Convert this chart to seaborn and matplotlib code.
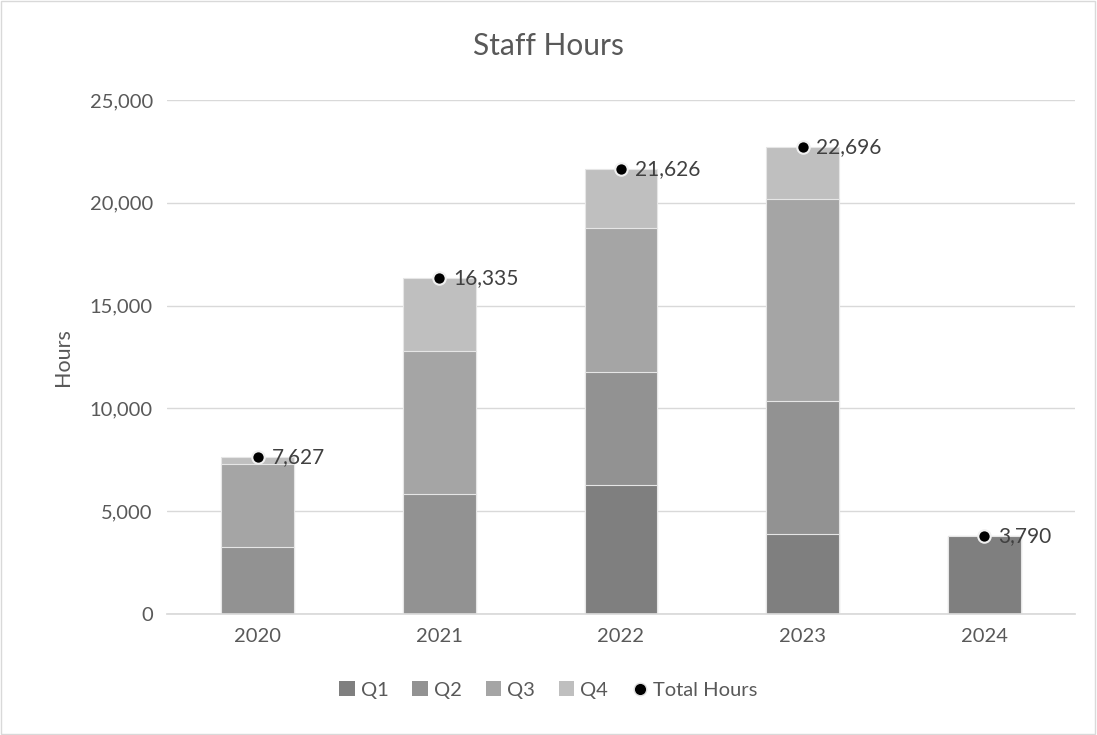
import matplotlib
matplotlib.use("Agg")
import matplotlib.pyplot as plt
from matplotlib.lines import Line2D
from matplotlib.patches import Patch
import seaborn as sns
import pandas as pd
import numpy as np

years = ["2020", "2021", "2022", "2023", "2024"]
q1 = [0, 0, 6260, 3870, 3790]
q2 = [3240, 5820, 5500, 6480, 0]
q3 = [4040, 6960, 7010, 9830, 0]
q4 = [347, 3555, 2856, 2516, 0]
totals = [7627, 16335, 21626, 22696, 3790]
series_names = ["Q1", "Q2", "Q3", "Q4"]
colors = ["#7f7f7f", "#929292", "#a5a5a5", "#bfbfbf"]

sns.set_theme(style="white")
plt.rcParams['font.family'] = ['Lato', 'DejaVu Sans']

df = pd.DataFrame({"Year": years, "Q1": q1, "Q2": q2, "Q3": q3, "Q4": q4})
cum = df[series_names].cumsum(axis=1)

fig = plt.figure(figsize=(10.97, 7.35), dpi=100)
ax = fig.add_axes([0.152, 0.1646, 0.828, 0.6993])

for name, col in reversed(list(zip(series_names, colors))):
    sns.barplot(x=df["Year"], y=cum[name], color=col, width=0.4, ax=ax,
                edgecolor="#e6e6e6", linewidth=0.8, saturation=1, zorder=2)

xs = np.arange(len(years))
ax.scatter(xs, totals, s=80, color="black", edgecolor="#f0f0f0", linewidth=1.5, zorder=5)
for x, t in zip(xs, totals):
    ax.annotate(f"{t:,}", (x, t), xytext=(10, 0), textcoords="offset points",
                va="center", ha="left", fontsize=15, color="#404040", zorder=6)

ax.set_xlim(-0.5, 4.5)
ax.set_ylim(0, 25000)
ax.set_yticks(range(0, 25001, 5000))
ax.set_yticklabels([f"{v:,}" for v in range(0, 25001, 5000)])
ax.yaxis.grid(True, color="#d9d9d9", linewidth=1, zorder=0)
ax.set_axisbelow(True)
for s in ["top", "right", "left"]:
    ax.spines[s].set_visible(False)
ax.spines["bottom"].set_color("#d9d9d9")
ax.tick_params(axis="both", length=0, labelsize=14.5, labelcolor="#595959", pad=10)
ax.set_xlabel("")
ax.set_ylabel("Hours", fontsize=15.5, color="#595959", labelpad=12)
fig.text(0.5, 0.937, "Staff Hours", ha="center", va="center", fontsize=21.5, color="#595959")

handles = [Patch(facecolor=c, edgecolor="none", label=n) for n, c in zip(series_names, colors)]
handles.append(Line2D([0], [0], marker="o", color="none", markerfacecolor="black",
                      markeredgecolor="#e0e0e0", markersize=9, label="Total Hours"))
fig.legend(handles=handles, loc="center", bbox_to_anchor=(0.5, 0.061), ncol=5, frameon=False,
           fontsize=14.5, labelcolor="#595959", handlelength=0.75, handleheight=0.75,
           handletextpad=0.3, columnspacing=1.2)

fig.patches.append(plt.Rectangle((0.001, 0.001), 0.997, 0.997, transform=fig.transFigure,
                                 fill=False, edgecolor="#d9d9d9", linewidth=1))
fig.savefig("out.png", dpi=100, facecolor="white")
